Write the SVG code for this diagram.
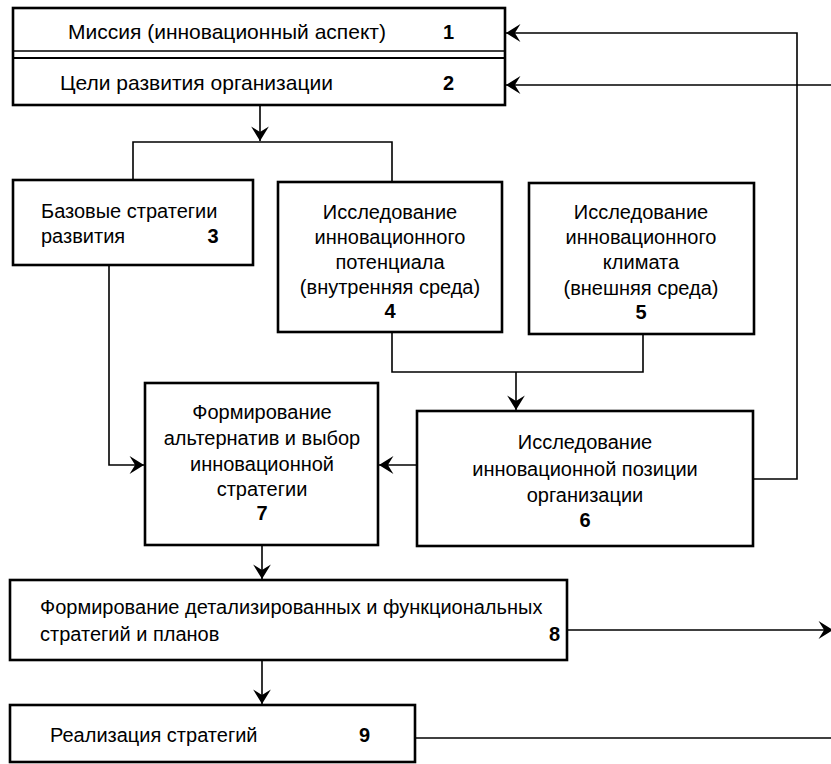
<svg xmlns="http://www.w3.org/2000/svg" width="831" height="764" viewBox="0 0 831 764">
<style>
.box{fill:#fff;stroke:#000;stroke-width:2.6}
.t{font-family:"Liberation Sans",Arial,sans-serif;font-size:20px;fill:#000}
.big{font-size:21px}
.c{text-anchor:middle}
.n{font-weight:bold}
.ln{fill:none;stroke:#000;stroke-width:1.6}
</style>
<defs>
<marker id="ah" markerUnits="userSpaceOnUse" markerWidth="20" markerHeight="20" viewBox="-14 -9 16 18" refX="0" refY="0" orient="auto">
<path d="M0,0 L-13,-8 L-8,0 L-13,8 Z" fill="#000"/>
</marker>
</defs>
<rect width="831" height="764" fill="#fff"/>
<g id="connectors">
<path class="ln" d="M260,105 V141" marker-end="url(#ah)"/>
<path class="ln" d="M133,180 V142 H392 V182"/>
<path class="ln" d="M109,265 V465 H144" marker-end="url(#ah)"/>
<path class="ln" d="M392,332 V372 H643 V334"/>
<path class="ln" d="M516,372 V410" marker-end="url(#ah)"/>
<path class="ln" d="M417,465 H379" marker-end="url(#ah)"/>
<path class="ln" d="M753,479 H797 V33 H506" marker-end="url(#ah)"/>
<path class="ln" d="M831,85 H506" marker-end="url(#ah)"/>
<path class="ln" d="M262,545 V579" marker-end="url(#ah)"/>
<path class="ln" d="M262,660 V704" marker-end="url(#ah)"/>
<path class="ln" d="M567,630 H833" marker-end="url(#ah)"/>
<path class="ln" d="M415,738 H831"/>
</g>
<g id="node1-2">
<rect class="box" x="13" y="8" width="492" height="97"/>
<line x1="13" y1="51" x2="505" y2="51" stroke="#000" stroke-width="1.4"/>
<line x1="13" y1="58" x2="505" y2="58" stroke="#000" stroke-width="2.2"/>
<text class="t big" x="68" y="39">Миссия (инновационный аспект)</text>
<text class="t n" x="443" y="39">1</text>
<text class="t big" x="60" y="90">Цели развития организации</text>
<text class="t n" x="443" y="90">2</text>
</g>
<g id="node3">
<rect class="box" x="13" y="180" width="240" height="85"/>
<text class="t" x="41" y="218">Базовые стратегии</text>
<text class="t" x="41" y="243">развития</text>
<text class="t n c" x="213" y="243">3</text>
</g>
<g id="node4">
<rect class="box" x="278" y="182" width="224" height="150"/>
<text class="t c" x="390" y="219">Исследование</text>
<text class="t c" x="390" y="244">инновационного</text>
<text class="t c" x="390" y="269">потенциала</text>
<text class="t c" x="390" y="294">(внутренняя среда)</text>
<text class="t n c" x="390" y="318">4</text>
</g>
<g id="node5">
<rect class="box" x="529" y="183" width="225" height="151"/>
<text class="t c" x="641" y="219">Исследование</text>
<text class="t c" x="641" y="244">инновационного</text>
<text class="t c" x="641" y="269">климата</text>
<text class="t c" x="641" y="295">(внешняя среда)</text>
<text class="t n c" x="641" y="319">5</text>
</g>
<g id="node6">
<rect class="box" x="417" y="411" width="336" height="135"/>
<text class="t c" x="585" y="449">Исследование</text>
<text class="t c" x="585" y="476">инновационной позиции</text>
<text class="t c" x="585" y="502">организации</text>
<text class="t n c" x="585" y="527">6</text>
</g>
<g id="node7">
<rect class="box" x="145" y="383" width="233" height="162"/>
<text class="t c" x="262" y="419">Формирование</text>
<text class="t c" x="262" y="445">альтернатив и выбор</text>
<text class="t c" x="262" y="471">инновационной</text>
<text class="t c" x="262" y="496">стратегии</text>
<text class="t n c" x="262" y="520">7</text>
</g>
<g id="node8">
<rect class="box" x="10" y="580" width="557" height="80"/>
<text class="t" x="40" y="614">Формирование детализированных и функциональных</text>
<text class="t" x="40" y="641">стратегий и планов</text>
<text class="t n" x="549" y="641">8</text>
</g>
<g id="node9">
<rect class="box" x="10" y="705" width="405" height="57"/>
<text class="t" x="50" y="742">Реализация стратегий</text>
<text class="t n" x="359" y="742">9</text>
</g>
</svg>
